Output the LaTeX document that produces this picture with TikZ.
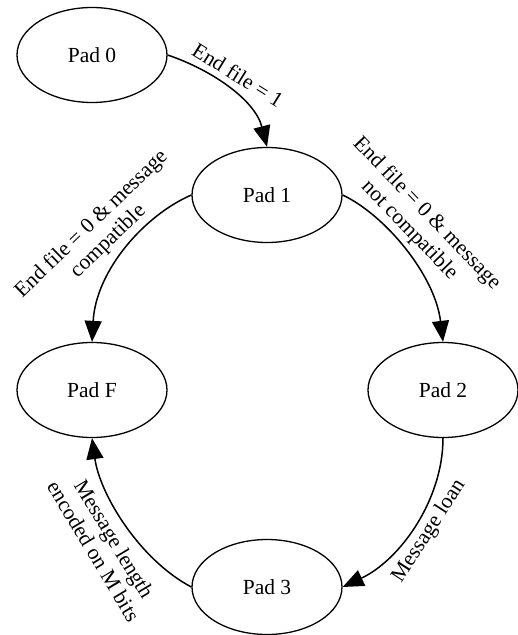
\documentclass[tikz,border=0pt]{standalone}
\usepackage{fontspec}
\setmainfont{Liberation Serif}
\usetikzlibrary{shapes.geometric,arrows.meta}
\begin{document}
\begin{tikzpicture}[x=1pt,y=-1pt,
 state/.style={ellipse,draw,line width=1.3pt,minimum width=150pt,minimum height=95pt,inner sep=0pt,font=\fontsize{21.5}{24}\selectfont},
 edge/.style={line width=1.5pt,-{Triangle[length=21pt,width=17pt]}},
 lbl/.style={font=\fontsize{21.5}{24}\selectfont,align=center,inner sep=0pt}]
\useasboundingbox (0,0) rectangle (518,635);
\node[state] (p0) at (92,55) {Pad 0};
\node[state] (p1) at (267,195) {Pad 1};
\node[state] (p2) at (443,390) {Pad 2};
\node[state] (pf) at (92,390) {Pad F};
\node[state] (p3) at (267,587) {Pad 3};
\draw[edge] (p0.east) .. controls (212,70) and (255,100) .. (p1.north);
\draw[edge] (p1.east) .. controls (385,215) and (435,275) .. (p2.north);
\draw[edge] (p1.west) .. controls (145,215) and (96,270) .. (pf.north);
\draw[edge] (p2.south) .. controls (443,500) and (400,560) .. (p3.east);
\draw[edge] (p3.west) .. controls (140,560) and (100,495) .. (pf.south);
\node[lbl,rotate=-32] (l1) at (238,75) {End file = 1};
\node[lbl,rotate=-46] (l2) at (418,222) {End file = 0 \& message\\not compatible};
\node[lbl,rotate=44] (l3) at (100,233) {End file = 0 \& message\\compatible};
\node[lbl,rotate=57] (l4) at (429,531) {Message loan};
\node[lbl,rotate=-59] (l5) at (104,545) {Message length\\encoded on M bits};
\end{tikzpicture}
\end{document}
